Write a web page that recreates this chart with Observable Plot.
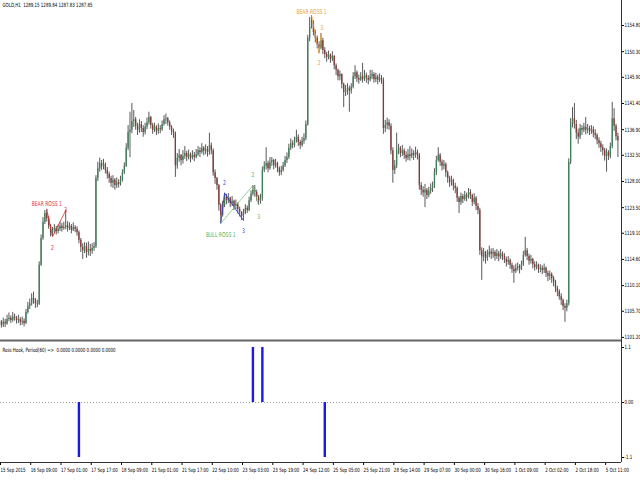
<!DOCTYPE html>
<html>
<head>
<meta charset="utf-8">
<script src="https://cdn.jsdelivr.net/npm/d3@7"></script>
<script src="https://cdn.jsdelivr.net/npm/@observablehq/plot@0.6"></script>
<style>
  body { margin: 0; background: #fff; }
  #chart { width: 640px; height: 480px; overflow: hidden; }
  #chart svg { display: block; }
</style>
</head>
<body>
<div id="chart"></div>
<script>
// GOLD H1, velas (cierre / máximo / mínimo), apertura = cierre anterior
const firstOpen = 1103.9;
const closes = [
  1103.3,1103.8,1103.5,1104.3,1104.5,1104.1,1104.7,1104.5,1104.1,1104.3,
  1103.8,1104.0,1103.6,1105.5,1106.5,1107.0,1107.9,1107.6,1107.0,1106.9,
  1113.6,1118.2,1121.0,1122.5,1121.6,1120.3,1119.2,1119.6,1119.9,1119.4,
  1119.8,1120.3,1119.9,1120.1,1120.4,1119.9,1120.3,1119.6,1120.1,1119.8,
  1119.2,1117.9,1116.7,1116.1,1116.8,1115.8,1116.3,1116.0,1116.5,1116.8,
  1128.5,1130.2,1131.1,1130.6,1130.9,1129.9,1129.2,1128.5,1127.7,1128.2,
  1127.3,1127.8,1127.5,1128.2,1129.5,1130.6,1133.7,1136.4,1136.8,1138.3,
  1138.6,1137.5,1136.8,1137.8,1137.1,1136.4,1137.3,1138.1,1139.0,1137.6,
  1136.8,1137.3,1136.6,1137.1,1136.9,1137.8,1138.6,1138.8,1138.1,1137.3,
  1136.6,1136.3,1130.7,1132.0,1132.5,1131.6,1132.3,1132.8,1132.1,1132.6,
  1132.0,1132.5,1132.1,1132.6,1133.3,1133.0,1133.7,1133.2,1133.5,1133.0,
  1134.2,1133.3,1129.5,1128.5,1127.3,1123.9,1122.2,1123.9,1125.4,1124.7,
  1125.1,1124.2,1124.6,1123.7,1124.1,1123.2,1122.7,1122.0,1122.5,1123.4,
  1123.0,1124.7,1125.8,1126.5,1126.1,1125.3,1124.7,1125.1,1129.9,1130.6,
  1131.1,1130.2,1131.3,1131.6,1130.7,1131.1,1130.2,1129.5,1129.9,1130.7,
  1131.6,1132.1,1133.7,1134.5,1134.2,1135.0,1135.6,1134.7,1134.2,1134.9,
  1135.4,1137.8,1152.6,1154.5,1155.3,1153.6,1152.6,1151.5,1150.9,1152.2,
  1150.5,1149.8,1149.3,1149.7,1149.0,1149.5,1147.9,1147.1,1146.0,1146.4,
  1144.7,1143.3,1143.6,1144.0,1143.5,1144.2,1146.0,1146.7,1145.7,1145.4,
  1146.0,1145.5,1146.2,1145.7,1145.4,1146.0,1146.4,1145.5,1145.9,1145.4,
  1145.7,1145.4,1137.1,1137.6,1138.1,1137.5,1133.3,1129.9,1130.7,1133.3,
  1133.7,1132.8,1133.3,1132.5,1132.0,1132.6,1132.3,1132.8,1132.5,1133.0,
  1132.5,1127.3,1126.5,1126.0,1126.5,1125.6,1126.3,1126.8,1127.2,1129.5,
  1131.6,1132.5,1131.3,1130.6,1130.9,1129.5,1128.5,1127.8,1128.2,1127.2,
  1126.8,1125.1,1124.4,1125.4,1124.9,1125.6,1125.3,1126.1,1125.6,1124.4,
  1125.1,1123.7,1123.0,1116.1,1115.0,1115.8,1114.8,1115.3,1115.9,1115.5,
  1115.8,1115.1,1115.6,1115.0,1115.5,1115.1,1114.6,1114.1,1114.4,1113.6,
  1112.9,1112.5,1113.1,1113.4,1112.9,1113.7,1115.3,1116.1,1115.1,1114.3,
  1114.6,1113.7,1113.2,1113.6,1112.9,1113.1,1112.7,1113.1,1112.2,1111.7,
  1112.0,1111.3,1110.7,1109.6,1109.1,1108.2,1107.6,1106.5,1106.2,1107.0,
  1131.3,1138.1,1138.8,1137.8,1136.3,1135.6,1137.1,1136.8,1137.3,1136.8,
  1137.1,1136.6,1136.9,1136.3,1135.9,1135.0,1134.5,1133.8,1133.3,1132.3,
  1133.0,1132.3,1134.0,1138.8,1137.5,1135.7,1135.0
];
const highs = [
  1104.1,1104.5,1104.3,1105.0,1105.4,1104.9,1105.5,1105.2,1104.8,1105.0,
  1104.6,1104.7,1104.4,1106.0,1107.2,1107.8,1108.7,1109.0,1107.9,1107.6,
  1114.2,1118.8,1121.8,1123.0,1123.2,1122.0,1120.6,1120.1,1120.6,1120.3,
  1120.5,1121.0,1120.8,1121.0,1123.0,1121.1,1120.9,1120.6,1120.9,1120.4,
  1120.2,1119.5,1118.2,1117.3,1117.5,1117.4,1117.6,1117.2,1117.3,1117.5,
  1129.0,1131.3,1132.0,1131.6,1131.8,1131.2,1130.4,1129.6,1128.9,1129.0,
  1128.5,1128.6,1128.3,1128.9,1130.0,1131.2,1134.5,1137.6,1139.9,1141.4,
  1140.2,1139.0,1138.0,1138.6,1138.3,1137.6,1138.0,1138.9,1139.9,1139.2,
  1138.0,1138.0,1137.6,1137.9,1137.6,1138.4,1139.3,1139.6,1139.0,1138.4,
  1137.6,1137.0,1136.5,1132.8,1133.5,1132.6,1133.3,1134.0,1133.2,1133.4,
  1132.9,1133.3,1133.0,1133.5,1134.0,1133.8,1134.5,1134.0,1134.3,1134.0,
  1136.3,1134.6,1133.6,1130.0,1128.7,1127.5,1124.2,1124.6,1126.0,1125.8,
  1125.9,1125.3,1125.4,1124.8,1124.8,1124.3,1123.6,1122.8,1123.2,1124.0,
  1123.8,1125.3,1126.4,1127.3,1127.3,1126.5,1125.6,1125.8,1130.5,1131.4,
  1133.8,1131.5,1132.1,1132.1,1131.8,1131.8,1131.3,1130.5,1130.6,1131.3,
  1132.3,1132.9,1134.4,1135.3,1135.0,1135.6,1136.8,1136.0,1135.1,1135.6,
  1136.2,1138.4,1153.1,1156.2,1156.5,1155.6,1154.0,1153.0,1152.0,1153.4,
  1152.6,1151.0,1150.2,1150.4,1149.9,1150.3,1149.6,1148.2,1147.3,1147.0,
  1146.5,1144.9,1144.5,1144.8,1144.4,1144.8,1146.7,1147.9,1147.0,1146.3,
  1146.7,1148.3,1147.1,1146.6,1146.2,1147.1,1147.1,1146.7,1146.6,1146.3,
  1146.5,1146.2,1145.8,1138.5,1138.9,1138.6,1137.9,1133.8,1131.6,1136.3,
  1134.4,1134.0,1134.2,1133.6,1133.1,1133.5,1134.0,1133.6,1133.3,1133.9,
  1133.4,1132.8,1127.8,1127.1,1127.5,1126.8,1127.0,1127.6,1127.9,1130.2,
  1132.3,1133.8,1132.8,1131.7,1131.6,1131.2,1129.8,1128.9,1128.9,1128.4,
  1127.7,1127.1,1125.4,1126.0,1125.8,1126.3,1126.0,1126.8,1126.6,1125.8,
  1125.9,1125.4,1124.2,1123.4,1116.6,1116.5,1116.0,1116.2,1116.9,1116.4,
  1116.5,1116.1,1116.3,1116.0,1116.3,1115.9,1115.6,1115.0,1115.1,1114.7,
  1114.0,1113.5,1113.8,1114.0,1113.7,1114.3,1116.0,1118.4,1116.5,1115.5,
  1115.3,1114.8,1114.2,1114.2,1113.8,1113.7,1113.5,1113.8,1113.3,1112.6,
  1112.6,1112.3,1111.7,1111.0,1110.0,1109.4,1108.7,1107.8,1107.0,1107.6,
  1131.9,1138.8,1140.7,1141.4,1138.5,1137.0,1137.8,1137.6,1138.0,1139.0,
  1137.8,1137.5,1137.6,1137.4,1136.9,1136.2,1135.5,1134.9,1134.3,1133.7,
  1133.6,1133.3,1134.6,1141.6,1140.5,1137.8,1136.3
];
const lows = [
  1102.8,1102.9,1102.9,1103.3,1103.9,1103.6,1103.8,1104.0,1103.5,1103.6,
  1103.2,1103.3,1103.0,1103.4,1105.2,1106.0,1106.6,1106.9,1106.2,1106.3,
  1106.7,1113.4,1117.9,1120.6,1121.0,1119.8,1118.5,1118.5,1119.0,1118.8,
  1119.0,1119.4,1119.3,1119.6,1119.7,1119.3,1119.6,1119.0,1119.4,1119.2,
  1118.6,1117.3,1115.8,1114.6,1115.6,1114.8,1115.2,1115.1,1115.5,1116.0,
  1116.5,1128.0,1129.6,1129.9,1130.0,1129.3,1128.4,1127.7,1127.0,1126.8,
  1126.5,1126.8,1126.9,1127.2,1127.9,1129.2,1130.4,1133.3,1132.1,1136.2,
  1137.3,1136.8,1135.9,1136.3,1136.4,1135.6,1136.0,1136.9,1137.7,1137.0,
  1136.1,1136.4,1135.9,1136.1,1136.2,1136.6,1137.5,1137.8,1137.5,1136.8,
  1135.9,1135.4,1128.7,1130.1,1131.3,1130.7,1131.0,1131.8,1131.4,1131.7,
  1131.2,1131.7,1131.4,1131.9,1132.3,1132.1,1132.7,1132.4,1132.6,1132.2,
  1132.5,1132.6,1128.9,1127.5,1126.5,1122.9,1120.8,1121.9,1123.5,1124.0,
  1124.2,1123.5,1123.7,1123.0,1123.2,1122.4,1121.9,1121.3,1121.3,1122.3,
  1122.5,1122.8,1124.4,1125.5,1125.3,1124.6,1123.9,1124.1,1124.6,1129.5,
  1130.0,1129.5,1129.9,1130.6,1130.0,1130.3,1129.5,1128.9,1129.0,1129.6,
  1130.4,1131.1,1131.8,1133.3,1133.6,1133.8,1134.6,1134.0,1133.5,1133.9,
  1134.4,1135.0,1137.5,1152.0,1154.2,1153.0,1151.8,1150.8,1150.0,1150.6,
  1149.8,1149.1,1148.5,1148.9,1148.3,1148.6,1147.2,1146.2,1145.3,1145.3,
  1143.9,1140.7,1142.6,1142.8,1139.9,1143.0,1143.9,1145.5,1145.0,1144.7,
  1145.2,1144.9,1145.2,1144.9,1144.6,1145.1,1145.5,1144.9,1145.0,1144.6,
  1145.0,1144.7,1136.1,1136.4,1136.9,1136.8,1132.6,1127.7,1129.2,1130.2,
  1132.6,1132.1,1132.3,1131.8,1131.3,1131.6,1131.5,1131.9,1131.6,1132.0,
  1131.7,1126.5,1125.6,1125.3,1123.5,1124.9,1125.2,1125.8,1126.1,1126.8,
  1129.0,1131.3,1130.6,1129.8,1130.0,1128.7,1127.7,1127.0,1127.2,1126.4,
  1125.9,1124.4,1122.5,1123.9,1124.2,1124.6,1124.5,1125.0,1124.9,1123.7,
  1124.0,1123.0,1122.3,1115.3,1111.0,1114.2,1113.8,1114.3,1114.9,1114.6,
  1114.8,1114.3,1114.6,1114.2,1114.6,1114.4,1113.9,1113.3,1113.6,1112.9,
  1112.2,1110.5,1112.2,1112.6,1112.1,1112.7,1113.4,1115.0,1114.4,1113.6,
  1113.8,1113.0,1112.6,1112.8,1112.2,1112.3,1112.0,1112.2,1111.5,1110.8,
  1111.0,1110.5,1109.9,1108.9,1108.2,1107.6,1106.7,1105.8,1103.8,1105.6,
  1106.6,1130.9,1137.2,1137.0,1135.2,1134.4,1135.2,1135.9,1136.4,1136.0,
  1136.2,1135.9,1136.1,1135.5,1135.2,1134.3,1133.7,1133.0,1132.4,1131.5,
  1129.6,1131.6,1131.9,1133.6,1136.6,1135.0,1132.1
];

// eje de precios y eje temporal
const priceTicks = [1154.8, 1150.3, 1145.9, 1141.4, 1136.9, 1132.5, 1128.0, 1123.5, 1119.1, 1114.6, 1110.1, 1105.7, 1101.2];
const timeTickBars = [0, 16, 32, 48, 64, 80, 96, 112, 128, 144, 160, 176, 192, 208, 224, 240, 256, 272, 288, 304, 320];
const timeLabels = ['15 Sep 2015', '16 Sep 09:00', '17 Sep 01:00', '17 Sep 17:00', '18 Sep 09:00', '21 Sep 01:00',
  '21 Sep 17:00', '22 Sep 10:00', '23 Sep 03:00', '23 Sep 19:00', '24 Sep 12:00', '25 Sep 05:00', '25 Sep 21:00',
  '28 Sep 14:00', '29 Sep 07:00', '30 Sep 00:00', '30 Sep 16:00', '1 Oct 09:00', '2 Oct 02:00', '2 Oct 18:00', '5 Oct 11:00'];

// patrones Ross Hook (barra, precio de los puntos 1-2-3)
const redBars = [25, 28, 35], redPrices = [1123.2, 1118.5, 1123.0];
const blueBars = [117, 119, 129], bluePrices = [1120.8, 1126.0, 1121.3];
const greenBars = [117, 134, 137], greenPrices = [1120.8, 1127.3, 1123.9];
const orangeBars = [165, 169, 170], orangePrices = [1156.5, 1150.0, 1153.4];

// indicador (ventana inferior)
const signalBars = [42, 134, 139, 172];
const signalValues = [-1.1, 1.1, 1.1, -1.1];

const titleText = 'GOLD,H1  1289.15 1289.84 1287.83 1287.85';
const indicatorText = 'Ross Hook, Period(60) =>  0.0000 0.0000 0.0000 0.0000';

const font = '"Liberation Sans Narrow", "DejaVu Sans Condensed", "Liberation Sans", sans-serif';
const xDomain = [0.53, 328.9];
const yDomain = [1100.5, 1159.1];
const subDomain = [-1.2, 1.22];

const bars = closes.map((c, k) => ({
  i: k + 1, o: k ? closes[k - 1] : firstOpen, h: highs[k], l: lows[k], c
}));
const pts = (xs, ys, tags) => xs.map((x, k) => ({x, y: ys[k], t: tags[k]}));
const red = pts(redBars, redPrices, ['BEAR ROSS 1', '2', '3']);
const blue = pts(blueBars, bluePrices, ['', '2', '3']);
const green = pts(greenBars, greenPrices, ['BULL ROSS 1', '2', '3']);
const orange = pts(orangeBars, orangePrices, ['BEAR ROSS 1', '2', '3']);
const signals = signalBars.map((b, k) => ({i: b, v: signalValues[k]}));

const style = {fontFamily: font, fontSize: '5.8px', background: '#fff', color: '#000', overflow: 'visible'};
const labels = (data, color, dys, dxs = [0, 0, 0]) =>
  [0, 1, 2].map((k) => Plot.text([data[k]], {x: 'x', y: 'y', text: 't', fill: color, dy: dys[k], dx: dxs[k], fontSize: 6.6}));

/* Ventana principal: velas */
const main = Plot.plot({
  width: 640, height: 341,
  marginTop: 0, marginRight: 19, marginBottom: 0, marginLeft: 0,
  style,
  x: {domain: xDomain, axis: null},
  y: {domain: yDomain},
  marks: [
    Plot.ruleX(bars, {x: 'i', y1: 'l', y2: 'h', stroke: '#111', strokeWidth: 0.7}),
    Plot.ruleX(bars, {x: 'i', y1: 'o', y2: 'c', stroke: (d) => d.c >= d.o ? '#3d7f57' : '#873838', strokeWidth: 1.3}),
    Plot.line(red, {x: 'x', y: 'y', stroke: '#e03030', strokeWidth: 0.8}),
    Plot.line(blue, {x: 'x', y: 'y', stroke: '#3a3ad0', strokeWidth: 0.9}),
    Plot.line(green, {x: 'x', y: 'y', stroke: '#66c066', strokeWidth: 0.9, strokeDasharray: '1,1.2'}),
    Plot.line(orange, {x: 'x', y: 'y', stroke: '#e8a038', strokeWidth: 0.8}),
    ...labels(red, '#e03030', [-6, 11, -1]),
    ...labels(blue, '#3a3ad0', [0, -10, 10]),
    ...labels(green, '#55b455', [12, -11, 12]),
    ...labels(orange, '#e8a038', [-4, 9, -6], [0, 0, 1]),
    Plot.axisY({anchor: 'right', ticks: priceTicks, tickFormat: (d) => d.toFixed(2), tickSize: 2, tickPadding: 1, label: null}),
    Plot.ruleX([xDomain[1]], {stroke: '#333', strokeWidth: 1}),
    Plot.ruleY([yDomain[0]], {stroke: '#666', strokeWidth: 2, dy: -1}),
    Plot.text([titleText], {frameAnchor: 'top-left', dx: 2, dy: 2, lineAnchor: 'top', textAnchor: 'start'})
  ]
});

/* Ventana del indicador + eje temporal */
const sub = Plot.plot({
  width: 640, height: 139,
  marginTop: 0, marginRight: 19, marginBottom: 18, marginLeft: 0,
  style,
  x: {domain: xDomain},
  y: {domain: subDomain},
  marks: [
    Plot.ruleY([0], {stroke: '#999', strokeDasharray: '1,2'}),
    Plot.ruleX(signals, {x: 'i', y1: 0, y2: 'v', stroke: '#1a1ae6', strokeWidth: 2.4}),
    Plot.axisY({anchor: 'right', ticks: [1.1, 0, -1.1], tickFormat: (d) => d === 0 ? '0.00' : String(d), tickSize: 2, tickPadding: 1, label: null}),
    Plot.axisX({anchor: 'bottom', ticks: timeTickBars, tickFormat: (d) => timeLabels[timeTickBars.indexOf(d)],
      tickSize: 3, tickPadding: 2, textAnchor: 'start', dx: 1, label: null}),
    Plot.ruleX([xDomain[1]], {stroke: '#333', strokeWidth: 1}),
    Plot.ruleY([subDomain[0]], {stroke: '#333', strokeWidth: 1}),
    Plot.text([indicatorText], {frameAnchor: 'top-left', dx: 2, dy: 6, lineAnchor: 'top', textAnchor: 'start'})
  ]
});

d3.select('#chart').append(() => main);
d3.select('#chart').append(() => sub);

// texto estrecho, como la fuente del terminal
d3.selectAll('#chart text').each(function () {
  const w = this.getComputedTextLength();
  if (w > 0) {
    this.setAttribute('textLength', (w * 0.76).toFixed(1));
    this.setAttribute('lengthAdjust', 'spacingAndGlyphs');
  }
});
</script>
</body>
</html>
